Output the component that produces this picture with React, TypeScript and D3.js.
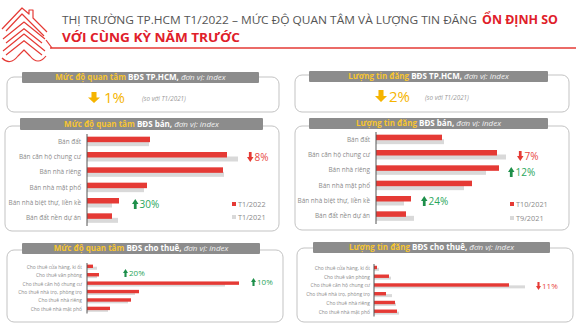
import React from 'react';
import * as d3 from 'd3';

const RED = '#e53a35';
const RED_TXT = '#e8473f';
const GRAY_BAR = '#d9d9d9';
const GREEN = '#1e8f4a';
const GREEN_TXT = '#2aa65a';
const YELLOW = '#f5b400';
const HEADER_YELLOW = '#f7c531';
const LABEL = '#8a8a8a';
const FONT = "'Open Sans', 'Noto Sans', sans-serif";

// ---- data ----
const saleCategories = ['Bán đất', 'Bán căn hộ chung cư', 'Bán nhà riêng', 'Bán nhà mặt phố', 'Bán nhà biệt thự, liền kề', 'Bán đất nền dự án'];
const interestSaleT12022 = [63, 140, 136, 60, 32, 25];
const interestSaleT12021 = [62, 151, 137, 57, 25, 31];
const listingSaleT102021 = [66, 121, 123, 96, 35, 30];
const listingSaleT92021 = [68, 130, 110, 88, 28, 38];

const rentCategories = ['Cho thuê cửa hàng, ki ốt', 'Cho thuê văn phòng', 'Cho thuê căn hộ chung cư', 'Cho thuê nhà trọ, phòng trọ', 'Cho thuê nhà riêng', 'Cho thuê nhà mặt phố'];
const interestRentCurrent = [6, 12, 152, 52, 44, 23];
const interestRentPrev = [10, 10, 138, 48, 41, 21];
const listingRentCurrent = [3, 15, 135, 12, 21, 23];
const listingRentPrev = [5, 17, 151, 18, 22, 25];

const legendInterest = ['T1/2022', 'T1/2021'];
const legendListing = ['T10/2021', 'T9/2021'];

const summaryInterest = '1%';
const summaryListing = '2%';

function BlockArrow({ x, y, w, h, dir, color }: any) {
  const sw = w * 0.42;
  const hh = h * 0.5;
  const cx = x + w / 2;
  let d;
  if (dir === 'down') {
    d = `M${cx - sw / 2},${y} L${cx + sw / 2},${y} L${cx + sw / 2},${y + h - hh} L${x + w},${y + h - hh} L${cx},${y + h} L${x},${y + h - hh} L${cx - sw / 2},${y + h - hh} Z`;
  } else {
    d = `M${cx - sw / 2},${y + h} L${cx + sw / 2},${y + h} L${cx + sw / 2},${y + hh} L${x + w},${y + hh} L${cx},${y} L${x},${y + hh} L${cx - sw / 2},${y + hh} Z`;
  }
  return <path d={d} fill={color} />;
}

function Header({ x, y, w, h, a, b, fs }: any) {
  return (
    <g>
      <rect x={x} y={y} width={w} height={h} fill="#8c8c8c" rx={1} />
      <text x={x + w / 2} y={y + h / 2 + fs * 0.36} textAnchor="middle" fontFamily={FONT} fontSize={fs}>
        <tspan fill={HEADER_YELLOW} fontWeight="bold">{a}</tspan>
        <tspan fill="#ffffff" fontWeight="bold">{' ' + b + ','}</tspan>
        <tspan fill="#f2f2f2" fontStyle="italic">{' đơn vị: index'}</tspan>
      </text>
    </g>
  );
}

function Box({ x, y, w, h }: any) {
  return <rect x={x} y={y} width={w} height={h} rx={7} fill="#fff" stroke="#c3c3c3" strokeWidth={1} />;
}

function BarPanel({ cats, cur, prev, axisX, y0, y1, redTop, redH, grayTop, grayH, labelFs, labelX, annotations, legend }: any) {
  const x = d3.scaleLinear().domain([0, 160]).range([axisX, axisX + 160]);
  const y = d3.scaleBand().domain(cats).range([y0, y1]).padding(0);
  return (
    <g>
      {cats.map((c: string, i: number) => {
        const cy = (y(c) as number) + y.bandwidth() / 2;
        return (
          <g key={c}>
            <rect x={x(0)} y={cy + grayTop} width={x(prev[i]) - x(0)} height={grayH} fill={GRAY_BAR} />
            <rect x={x(0)} y={cy + redTop} width={x(cur[i]) - x(0)} height={redH} fill={RED} />
            <text x={labelX} y={cy + labelFs * 0.3} textAnchor="end" fontFamily={FONT} fontSize={labelFs} fill={LABEL}>{c}</text>
          </g>
        );
      })}
      <line x1={axisX} x2={axisX} y1={y0} y2={y1} stroke="#555" strokeWidth={1} />
      {annotations.map((a: any, i: number) => (
        <g key={i}>
          <BlockArrow x={a.x} y={a.y - a.ah / 2} w={a.aw} h={a.ah} dir={a.dir} color={a.dir === 'up' ? GREEN : RED} />
          <text x={a.x + a.aw + 1} y={a.y + a.fs * 0.36} fontFamily={FONT} fontSize={a.fs} fill={a.dir === 'up' ? GREEN_TXT : RED_TXT}>{a.label}</text>
        </g>
      ))}
      {legend && (
        <g>
          <rect x={legend.x} y={legend.y1 - 2} width={4} height={4} fill={RED} />
          <text x={legend.x + 6} y={legend.y1 + 2.6} fontFamily={FONT} fontSize={7.3} fill={LABEL}>{legend.names[0]}</text>
          <rect x={legend.x} y={legend.y2 - 2} width={4} height={4} fill={GRAY_BAR} />
          <text x={legend.x + 6} y={legend.y2 + 2.6} fontFamily={FONT} fontSize={7.3} fill={LABEL}>{legend.names[1]}</text>
        </g>
      )}
    </g>
  );
}

function Logo() {
  const chev = (yy: number, k: number) => `M${3 + k},${yy + 17} L${24},${yy + k * 0.9} L${45 - k},${yy + 17}`;
  return (
    <g fill="none" stroke={RED} strokeWidth={1.2} strokeLinejoin="round">
      <path d={`M2,29 L22,8 L29,14 L29,10 L33,10 L33,18 L47,32`} />
      <path d={`M6,31 L22,14 L44,36`} />
      <path d={chev(22, 0)} />
      <path d={chev(26, 3)} />
      <path d={chev(34, 0)} />
      <path d={chev(38, 3)} />
      <path d={`M2,58 Q10,66 18,56 L24,50 L30,56 Q38,66 46,56`} />
      <path d={`M46,40 L52,48`} />
    </g>
  );
}

export default function App() {
  return (
    <svg width={576} height={334} style={{ position: 'absolute', left: 0, top: 0, background: '#fff' }}>
      <rect width={576} height={334} fill="#fff" />
      <Logo />
      <text x={62} y={24} fontFamily={FONT} fontSize={11.5} fill="#555" textLength={415} lengthAdjust="spacingAndGlyphs">THỊ TRƯỜNG TP.HCM T1/2022 – MỨC ĐỘ QUAN TÂM VÀ LƯỢNG TIN ĐĂNG</text>
      <text x={482} y={24} fontFamily={FONT} fontSize={12.5} fontWeight="bold" fill="#e0202a" textLength={76} lengthAdjust="spacingAndGlyphs">ỔN ĐỊNH SO</text>
      <text x={62} y={42} fontFamily={FONT} fontSize={12.5} fontWeight="bold" fill="#e0202a" textLength={178} lengthAdjust="spacingAndGlyphs">VỚI CÙNG KỲ NĂM TRƯỚC</text>
      <line x1={50} x2={576} y1={48} y2={48} stroke={RED} strokeWidth={1.6} />

      {/* summary boxes */}
      <Box x={7} y={77} w={272} h={35} />
      <Header x={22} y={72} w={237} h={11} a="Mức độ quan tâm" b="BĐS TP.HCM" fs={8} />
      <BlockArrow x={88} y={92} w={12} h={11} dir="down" color={YELLOW} />
      <text x={104} y={103} fontFamily={FONT} fontSize={15} fill={YELLOW}>{summaryInterest}</text>
      <text x={142} y={101} fontFamily={FONT} fontSize={6.3} fontStyle="italic" fill="#999">(so với T1/2021)</text>

      <Box x={295} y={75} w={274} h={37} />
      <Header x={309} y={71} w={239} h={11} a="Lượng tin đăng" b="BĐS TP.HCM" fs={8} />
      <BlockArrow x={375} y={90} w={12} h={12} dir="down" color={YELLOW} />
      <text x={389} y={102} fontFamily={FONT} fontSize={15} fill={YELLOW}>{summaryListing}</text>
      <text x={425} y={99.5} fontFamily={FONT} fontSize={6.3} fontStyle="italic" fill="#999">(so với T1/2021)</text>

      {/* sale panels */}
      <Box x={5} y={126} w={274} h={105} />
      <Header x={20} y={118} w={243} h={12} a="Mức độ quan tâm" b="BĐS bán" fs={8} />
      <BarPanel cats={saleCategories} cur={interestSaleT12022} prev={interestSaleT12021} axisX={87} y0={134} y1={226}
        redTop={-5} redH={5.5} grayTop={-0.5} grayH={5} labelFs={6.4} labelX={81}
        annotations={[
          { label: '8%', x: 247, y: 157, dir: 'down', aw: 6.5, ah: 10, fs: 10 },
          { label: '30%', x: 132, y: 204, dir: 'up', aw: 6.5, ah: 10, fs: 10 },
        ]}
        legend={{ x: 232, y1: 204, y2: 217, names: legendInterest }} />

      <Box x={295} y={126} w={274} h={104} />
      <Header x={309} y={118} w={239} h={11} a="Lượng tin đăng" b="BĐS bán" fs={8} />
      <BarPanel cats={saleCategories} cur={listingSaleT102021} prev={listingSaleT92021} axisX={376} y0={132} y1={224}
        redTop={-5} redH={5.5} grayTop={-0.5} grayH={5} labelFs={6.4} labelX={370}
        annotations={[
          { label: '7%', x: 517, y: 156, dir: 'down', aw: 6.5, ah: 10, fs: 10 },
          { label: '12%', x: 508, y: 172, dir: 'up', aw: 6.5, ah: 10, fs: 10 },
          { label: '24%', x: 421, y: 201, dir: 'up', aw: 6.5, ah: 10, fs: 10 },
        ]}
        legend={{ x: 510, y1: 204, y2: 218, names: legendListing }} />

      {/* rent panels */}
      <Box x={7} y={250} w={276} h={72} />
      <Header x={22} y={243} w={238} h={11} a="Mức độ quan tâm" b="BĐS cho thuê" fs={8} />
      <BarPanel cats={rentCategories} cur={interestRentCurrent} prev={interestRentPrev} axisX={87} y0={263} y1={313.5}
        redTop={-2.6} redH={3.4} grayTop={-0.5} grayH={3} labelFs={4.9} labelX={82}
        annotations={[
          { label: '20%', x: 123, y: 273, dir: 'up', aw: 5, ah: 8, fs: 8 },
          { label: '10%', x: 251, y: 282, dir: 'up', aw: 5, ah: 8, fs: 8 },
        ]} />

      <Box x={297} y={248} w={276} h={74} />
      <Header x={313} y={242} w={237} h={11} a="Lượng tin đăng" b="BĐS cho thuê" fs={8} />
      <BarPanel cats={rentCategories} cur={listingRentCurrent} prev={listingRentPrev} axisX={374} y0={264} y1={316.5}
        redTop={-2.6} redH={3.4} grayTop={-0.5} grayH={3} labelFs={4.9} labelX={370}
        annotations={[
          { label: '11%', x: 536, y: 286, dir: 'down', aw: 5, ah: 8, fs: 8 },
        ]} />
    </svg>
  );
}
